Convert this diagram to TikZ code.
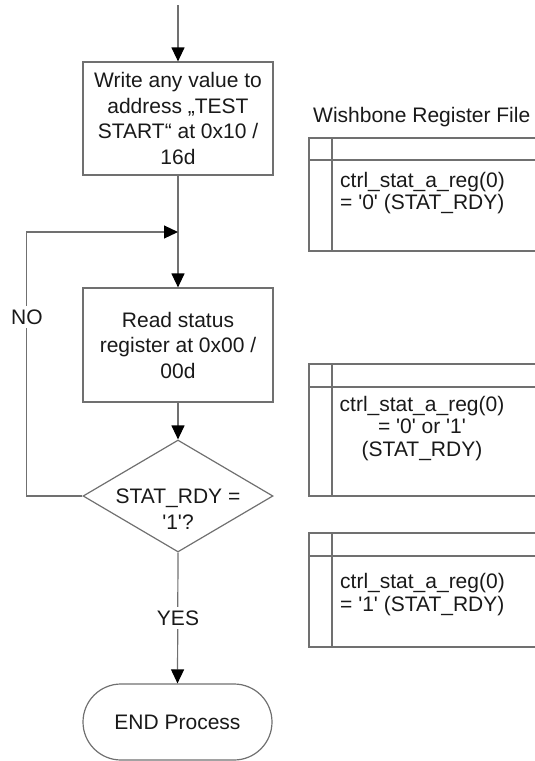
\documentclass[tikz,border=0pt]{standalone}
\usepackage{fontspec}
\newfontfamily\diagfont{Liberation Sans}
\usetikzlibrary{arrows.meta,shapes.geometric}
\definecolor{linegray}{RGB}{112,112,112}
\definecolor{ink}{RGB}{25,25,25}
\newcommand\boxfont{\diagfont\fontsize{21}{25.5}\selectfont}
\newcommand\regfont{\diagfont\fontsize{21}{22.5}\selectfont}

\begin{document}
\begin{tikzpicture}[x=1pt,y=-1pt,
  line/.style={draw=linegray,line width=1.2pt},
  flow/.style={line,-{Triangle[length=14pt,width=13pt,color=black]}},
  proc/.style={line,rectangle,minimum width=190pt,inner sep=0pt,align=center,
    font=\boxfont,text=ink},
  decision/.style={line,diamond,minimum width=190pt,minimum height=112pt,inner sep=0pt},
  terminal/.style={line,rectangle,rounded corners=38pt,minimum width=189pt,
    minimum height=76pt,inner sep=0pt,font=\boxfont,text=ink},
  lbl/.style={font=\boxfont,text=ink,fill=white,inner sep=4pt},
  regtext/.style={font=\regfont,text=ink,inner sep=0pt},
  table/.style={line}
]
\useasboundingbox (0,0) rectangle (535,761);

% flow chart
\coordinate (top) at (178,5);
\node[proc,minimum height=113pt] (write) at (178,118.5)
  {Write any value to\\address „TEST\\START“ at 0x10 /\\16d};
\coordinate (merge) at (178,232);
\node[proc,minimum height=114pt] (read) at (178,345)
  {Read status\\register at 0x00 /\\00d};
\node[decision] (check) at (178,496) {};
\node[font=\boxfont,text=ink,align=center,inner sep=0pt] (checktext) at (178,509)
  {STAT\_RDY =\\'1'?};
\node[terminal] (done) at (177.5,722) {END Process};

\draw[flow] (top) -- (write.north);
\draw[line] (write.south) -- (merge);
\draw[flow] (merge) -- (read.north);
\draw[flow] (read.south) -- (check.north);
\draw[flow] (check.west) -- ++(-56,0) coordinate (loopcorner) |- (merge);
\draw[flow] (check.south) -- (done.north);
\node[lbl] (no) at (27,317) {NO};
\node[lbl] (yes) at (178,618) {YES};

% register file
\node[font=\boxfont,text=ink,anchor=west,inner sep=0pt] (title) at (313,117)
  {Wishbone Register File};

\draw[table] (535,138) -- (309,138) -- (309,251) -- (535,251);
\draw[table] (309,160) -- (535,160);
\draw[table] (332,138) -- (332,251);
\node[regtext,anchor=west,align=left] (reg1) at (340,193)
  {ctrl\_stat\_a\_reg(0)\\= '0' (STAT\_RDY)};

\draw[table] (535,364) -- (309,364) -- (309,496) -- (535,496);
\draw[table] (309,387) -- (535,387);
\draw[table] (332,364) -- (332,496);
\node[regtext,align=center] (reg2) at (422,428.5)
  {ctrl\_stat\_a\_reg(0)\\= '0' or '1'\\(STAT\_RDY)};

\draw[table] (535,533) -- (309,533) -- (309,647) -- (535,647);
\draw[table] (309,556) -- (535,556);
\draw[table] (332,533) -- (332,647);
\node[regtext,anchor=west,align=left] (reg3) at (340,594.5)
  {ctrl\_stat\_a\_reg(0)\\= '1' (STAT\_RDY)};
\end{tikzpicture}
\end{document}
